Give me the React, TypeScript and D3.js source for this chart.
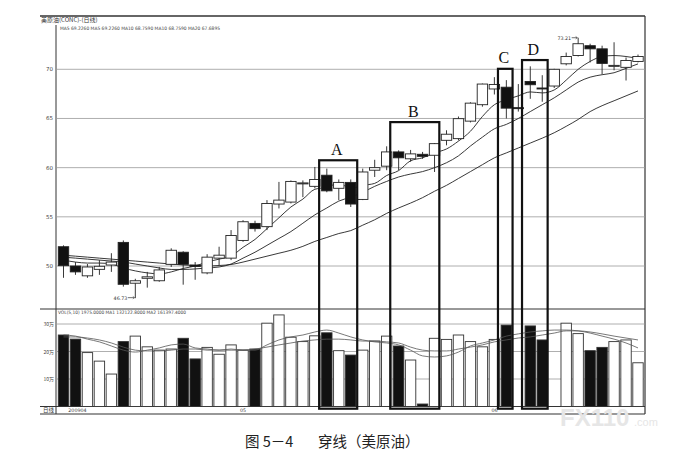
import React from 'react';
import * as d3 from 'd3';

// ---- data ----
const opens = [51.96, 50.0, 49.0, 49.66, 50.1, 52.4, 48.25, 48.75, 48.5, 50.17, 51.4, 50.1, 49.3, 50.8, 50.8, 52.6, 54.33, 54.0, 56.3, 56.5, 58.35, 58.1, 59.23, 57.9, 58.5, 56.77, 59.74, 60.15, 61.6, 60.9, 61.36, 61.26, 62.78, 62.95, 64.73, 66.4, 68.0, 68.18, 66.1, 68.76, 68.1, 68.3, 70.56, 71.4, 72.4, 72.08, 70.3, 70.2, 70.8];
const highs = [52.1, 50.4, 50.2, 50.6, 51.3, 52.6, 48.7, 49.4, 49.9, 51.8, 51.5, 50.4, 51.2, 51.96, 53.65, 54.66, 54.6, 56.7, 58.55, 58.7, 58.7, 60.07, 59.9, 58.8, 58.8, 59.9, 60.8, 62.17, 61.76, 61.8, 61.6, 62.5, 63.8, 65.2, 66.65, 68.55, 69.2, 68.9, 68.5, 70.3, 69.4, 70.05, 71.7, 73.21, 72.6, 72.4, 72.75, 71.2, 71.5];
const lows = [48.8, 49.1, 48.8, 49.1, 49.4, 47.9, 46.73, 47.8, 48.4, 49.9, 48.1, 48.6, 49.16, 50.1, 50.6, 52.46, 53.5, 53.65, 55.85, 56.36, 57.0, 57.9, 57.5, 56.7, 56.0, 56.7, 59.05, 59.74, 59.74, 60.6, 60.9, 59.56, 62.27, 62.78, 64.6, 66.2, 67.44, 65.0, 65.7, 67.0, 66.7, 68.1, 70.4, 71.3, 70.7, 69.5, 69.9, 68.86, 70.7];
const closes = [50.03, 49.4, 49.9, 49.97, 50.4, 48.14, 48.5, 48.9, 49.6, 51.6, 50.17, 49.95, 50.9, 51.1, 53.1, 54.5, 53.8, 56.36, 56.7, 58.6, 58.45, 58.8, 57.64, 58.5, 56.3, 59.56, 60.0, 61.6, 61.0, 61.4, 61.15, 62.44, 63.4, 64.98, 66.56, 68.5, 68.46, 66.05, 66.0, 68.43, 68.05, 70.0, 71.3, 72.6, 72.08, 70.6, 70.4, 70.9, 71.3];
// volume in 万 (10k)
const volumes = [26.0, 24.5, 19.6, 16.5, 11.8, 23.6, 25.6, 21.7, 20.5, 20.9, 24.8, 17.3, 21.5, 19.0, 22.4, 20.5, 20.9, 30.3, 33.3, 25.2, 23.6, 25.7, 26.8, 20.3, 18.7, 20.5, 23.8, 25.6, 22.0, 16.9, 0.9, 24.8, 24.4, 26.0, 23.6, 21.7, 24.4, 29.6, 0, 29.3, 24.2, 0, 30.3, 26.5, 20.3, 21.5, 23.6, 24.2, 15.9];

const ma5 = [50.6, 50.4, 50.3, 50.3, 50.2, 49.8, 49.5, 49.3, 49.2, 49.4, 49.75, 50.0, 50.4, 50.7, 51.0, 51.9, 52.7, 53.8, 54.9, 56.0, 56.8, 57.8, 58.0, 58.4, 57.9, 58.2, 58.4, 59.2, 59.7, 60.7, 61.0, 61.5, 61.9, 62.7, 63.7, 65.2, 66.4, 66.9, 67.3, 67.7, 67.6, 67.9, 68.9, 70.0, 70.8, 71.3, 71.4, 71.3, 71.1];
const ma10 = [50.9, 50.8, 50.7, 50.6, 50.5, 50.4, 50.2, 50.0, 49.8, 49.65, 49.65, 49.7, 49.8, 49.9, 50.2, 50.8, 51.4, 52.1, 52.8, 53.5, 54.35, 55.2, 55.9, 56.6, 57.0, 57.5, 58.1, 58.6, 59.05, 59.35, 59.6, 60.0, 60.5, 61.2, 62.2, 63.1, 63.95, 64.4, 65.0, 65.7, 66.4, 67.1, 67.9, 68.7, 69.2, 69.45, 69.65, 70.1, 70.55];
const ma20 = [51.1, 51.0, 50.9, 50.8, 50.7, 50.6, 50.5, 50.4, 50.3, 50.2, 50.1, 50.05, 50.0, 50.05, 50.15, 50.4, 50.7, 51.0, 51.3, 51.6, 52.0, 52.5, 52.9, 53.3, 53.6, 54.15, 54.7, 55.35, 55.9, 56.4, 56.95, 57.6, 58.2, 58.9, 59.6, 60.3, 61.0, 61.5, 62.0, 62.5, 63.0, 63.55, 64.2, 64.9, 65.7, 66.3, 66.8, 67.3, 67.8];

const volMa1 = [26.0, 25.6, 24.5, 23.5, 22.0, 20.5, 19.8, 20.5, 21.3, 22.4, 22.7, 21.3, 20.9, 20.5, 20.9, 20.5, 20.5, 22.4, 24.2, 25.3, 26.0, 27.1, 27.8, 26.7, 25.3, 24.2, 23.5, 23.1, 22.4, 20.5, 18.4, 18.0, 18.4, 19.8, 22.0, 23.1, 24.2, 25.6, 26.4, 27.1, 27.5, 27.8, 27.8, 27.5, 26.7, 25.6, 24.5, 23.1, 21.3];
const volMa2 = [25.3, 25.3, 24.9, 24.2, 23.1, 21.6, 20.5, 20.2, 20.2, 20.5, 20.9, 20.9, 20.5, 20.5, 20.5, 20.5, 20.9, 21.6, 22.4, 23.1, 23.8, 24.2, 24.5, 24.5, 24.2, 23.8, 23.8, 23.5, 23.1, 21.6, 20.5, 20.2, 20.2, 20.9, 21.6, 22.4, 23.5, 24.2, 24.9, 25.3, 26.0, 26.7, 27.5, 27.5, 27.1, 26.4, 25.6, 24.9, 24.2];

const priceTicks = [50, 55, 60, 65, 70];
const volTicks = [10, 20, 30];
const volTickLabels = ['10万', '20万', '30万'];
const dateLabels = [
  { at: 0.4, label: '200904' },
  { at: 14.75, label: '05' },
  { at: 35.75, label: '06' },
];
const boxNames = ['A', 'B', 'C', 'D'];
const boxFrom = [21.36, 27.3, 36.3, 38.31];
const boxTo = [24.54, 31.4, 37.52, 40.45];
const boxTop = [60.75, 64.63, 70.05, 70.94];

const headerTitle = '美原油(CONC)-(日线)';
const maLegend = 'MA5 69.2260  MA5 69.2260  MA10 68.7590  MA10 68.7590  MA20 67.6895';
const volLegend = 'VOL(5,10) 1975.0000  MA1 132122.8000  MA2 161397.4000';
const captionA = '图 5－4';
const captionB = '穿线（美原油）';

export default function App() {
  const W = 693, H = 461;
  const L = 40, R = 645, axisX = 56;
  const n = closes.length;
  const x = d3.scaleLinear().domain([0, n - 1]).range([63.5, 638]);
  const y = d3.scaleLinear().domain([50, 70]).range([266, 69.3]);
  const yv = d3.scaleLinear().domain([0, 30]).range([406.5, 324]);
  const bw = 10.4;
  const idx = d3.range(n);

  const priceLine = d3.line<number>().x((_, i) => x(i)).y((d) => y(d)).curve(d3.curveMonotoneX);
  const volLine = d3.line<number>().x((_, i) => x(i)).y((d) => yv(d)).curve(d3.curveMonotoneX);

  const tiny = 'DejaVu Sans, sans-serif';
  const boxBottom = yv(-0.8);

  return (
    <div style={{ position: 'absolute', left: 0, top: 0 }}>
      <svg width={W} height={H} viewBox={`0 0 ${W} ${H}`} style={{ display: 'block', background: '#fff' }}>
        {/* frame */}
        <line x1={L} x2={R} y1={16} y2={16} stroke="#333" strokeWidth={1.4} />
        <line x1={R} x2={R} y1={16} y2={414} stroke="#333" strokeWidth={1.2} />
        <line x1={axisX} x2={axisX} y1={25} y2={414} stroke="#333" strokeWidth={1} />
        <line x1={L} x2={R} y1={309} y2={309} stroke="#333" strokeWidth={1} />
        <line x1={L} x2={R} y1={406.5} y2={406.5} stroke="#333" strokeWidth={1} />
        <line x1={L} x2={R} y1={414} y2={414} stroke="#333" strokeWidth={1.2} />

        <text x={41} y={22} fontSize={6} fontFamily="Noto Sans CJK SC" fill="#333">{headerTitle}</text>
        <text x={60} y={30} fontSize={4.6} fontFamily={tiny} fill="#444" textLength={160} lengthAdjust="spacingAndGlyphs">{maLegend}</text>

        {/* price grid */}
        {priceTicks.map((t) => (
          <g key={'pt' + t}>
            <line x1={axisX} x2={R} y1={y(t)} y2={y(t)} stroke="#9a9a9a" strokeWidth={0.8} />
            <text x={53} y={y(t) + 2} fontSize={5.5} fontFamily={tiny} textAnchor="end" fill="#444">{t}</text>
          </g>
        ))}

        {/* volume grid */}
        {volTicks.map((t, i) => (
          <g key={'vt' + t}>
            <line x1={axisX} x2={R} y1={yv(t)} y2={yv(t)} stroke="#9a9a9a" strokeWidth={0.8} />
            <text x={54} y={yv(t) + 2} fontSize={5} fontFamily="Noto Sans CJK SC" textAnchor="end" fill="#444">{volTickLabels[i]}</text>
          </g>
        ))}
        <text x={58} y={314} fontSize={4.6} fontFamily={tiny} fill="#444" textLength={128} lengthAdjust="spacingAndGlyphs">{volLegend}</text>

        {/* date row */}
        <text x={43} y={412} fontSize={5.5} fontFamily="Noto Sans CJK SC" fill="#333">日线</text>
        {dateLabels.map((d) => (
          <text key={d.label} x={x(d.at)} y={412} fontSize={4.8} fontFamily={tiny} fill="#444">{d.label}</text>
        ))}

        {/* MA lines */}
        <path d={priceLine(ma20) || ''} fill="none" stroke="#222" strokeWidth={0.9} />
        <path d={priceLine(ma10) || ''} fill="none" stroke="#222" strokeWidth={0.9} />
        <path d={priceLine(ma5) || ''} fill="none" stroke="#222" strokeWidth={0.9} />

        {/* candles */}
        {idx.map((i) => {
          const o = opens[i], c = closes[i];
          const down = c < o;
          const top = y(Math.max(o, c));
          const bot = y(Math.min(o, c));
          const h = Math.max(bot - top, 1);
          return (
            <g key={'c' + i}>
              <line x1={x(i)} x2={x(i)} y1={y(highs[i])} y2={y(lows[i])} stroke="#222" strokeWidth={0.9} />
              <rect x={x(i) - bw / 2} y={top} width={bw} height={h} fill={down ? '#111' : '#fff'} stroke="#222" strokeWidth={0.9} />
            </g>
          );
        })}

        {/* extreme annotations */}
        <text x={x(43) - 7} y={y(73.21) + 2} fontSize={4.8} fontFamily={tiny} textAnchor="end" fill="#333">73.21</text>
        <line x1={x(43) - 6.5} x2={x(43) - 1} y1={y(73.21)} y2={y(73.21)} stroke="#333" strokeWidth={0.7} />
        <path d={`M${x(43) - 2.5},${y(73.21) - 1.2} L${x(43) - 0.8},${y(73.21)} L${x(43) - 2.5},${y(73.21) + 1.2}`} fill="none" stroke="#333" strokeWidth={0.6} />
        <text x={x(6) - 8} y={y(46.73) + 1.5} fontSize={4.8} fontFamily={tiny} textAnchor="end" fill="#333">46.73</text>
        <line x1={x(6) - 7.5} x2={x(6) - 1} y1={y(46.73) - 0.5} y2={y(46.73) - 0.5} stroke="#333" strokeWidth={0.7} />
        <path d={`M${x(6) - 2.5},${y(46.73) - 1.7} L${x(6) - 0.8},${y(46.73) - 0.5} L${x(6) - 2.5},${y(46.73) + 0.7}`} fill="none" stroke="#333" strokeWidth={0.6} />

        {/* volume bars */}
        {idx.map((i) => {
          const v = volumes[i];
          if (v <= 0) return null;
          const down = closes[i] < opens[i];
          return (
            <rect key={'v' + i} x={x(i) - bw / 2} y={yv(v)} width={bw} height={yv(0) - yv(v)} fill={down ? '#111' : '#fff'} stroke="#333" strokeWidth={0.9} />
          );
        })}
        <path d={volLine(volMa2) || ''} fill="none" stroke="#555" strokeWidth={0.8} />
        <path d={volLine(volMa1) || ''} fill="none" stroke="#555" strokeWidth={0.8} />

        {/* highlight boxes */}
        {boxNames.map((nm, k) => {
          const x0 = x(boxFrom[k]);
          const x1 = x(boxTo[k]);
          const t = y(boxTop[k]);
          return (
            <g key={nm}>
              <rect x={x0} y={t} width={x1 - x0} height={boxBottom - t} fill="none" stroke="#111" strokeWidth={2.2} />
              <text x={(x0 + x1) / 2 - 1.5} y={t - 5.5} fontSize={16} fontFamily="Liberation Serif, serif" textAnchor="middle" fill="#111">{nm}</text>
            </g>
          );
        })}

        {/* watermark */}
        <text x={560} y={426} fontSize={24} fontWeight="bold" fontFamily="Liberation Sans, sans-serif" fill="#e6e6e6">FX110</text>
        <text x={634} y={426} fontSize={11} fontFamily="Liberation Sans, sans-serif" fill="#e6e6e6">.com</text>

        {/* caption */}
        <text x={245} y={447} fontSize={14.5} fontFamily="Noto Sans CJK SC" fill="#222">{captionA}</text>
        <text x={318} y={447} fontSize={14.5} fontFamily="Noto Sans CJK SC" fill="#222">{captionB}</text>
      </svg>
    </div>
  );
}
